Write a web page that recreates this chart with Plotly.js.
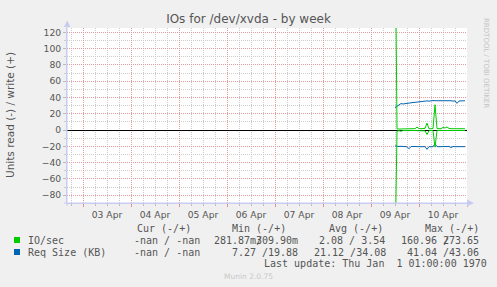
<!DOCTYPE html>
<html>
<head>
<meta charset="utf-8">
<script src="https://cdn.plot.ly/plotly-3.0.1.min.js"></script>
<style>
html,body{margin:0;padding:0;background:#f0f0f0;}
#chart{width:497px;height:287px;}
</style>
</head>
<body>
<div id="chart"></div>
<script>
// ---- data ----
const seriesStart = '2024-04-09T12:00:00';
const stepHours = 1;
const ioWrite = [273.65, 1.5, 1.2, 1.5, 1.4, 1.6, 1.5, 1.5, 1.6, 1.5, 1.7, 3.5, 1.8, 1.6, 1.7, 2.0,
  8.5, 1.5, 1.6, 1.8, 31.0, 1.6, 1.7, 1.6, 3.2, 2.5, 3.8, 2.0, 1.6, 1.7, 1.6, 1.7, 1.6, 1.6, 1.7, 1.6];
const ioRead = [-160.96, -1.2, -0.8, -1.5, -0.6, -0.9, -1.3, -0.7, -0.5, -0.6, -0.5, -0.7, -0.6, -0.5, -0.6, -1.0,
  -5.5, -0.8, -0.6, -0.7, -21.0, -0.6, -0.5, -0.6, -0.5, -0.6, -0.5, -0.6, -0.5, -0.6, -0.5, -0.6, -0.5, -0.6, -0.5, -0.6];
const reqWrite = [27.5, 29.0, 30.5, 32.5, 32.0, 32.5, 33.0, 32.8, 33.5, 33.8, 34.0, 34.4, 34.6, 35.0, 35.5, 35.2,
  35.8, 35.5, 36.0, 36.2, 36.0, 36.1, 35.8, 36.0, 36.2, 35.7, 36.0, 35.8, 36.0, 35.5, 35.9, 32.8, 35.5, 35.8, 35.9, 35.9];
const reqRead = [-19.5, -20.0, -20.2, -20.0, -20.3, -20.1, -20.5, -23.0, -20.3, -20.2, -20.4, -20.1, -20.3, -20.2, -20.5, -20.3,
  -23.7, -20.4, -20.2, -20.5, -17.0, -20.3, -20.5, -20.2, -20.4, -20.2, -20.3, -20.1, -21.5, -20.2, -20.4, -20.3, -20.2, -20.5, -20.3, -20.4];

const seriesNames = ['IO/sec', 'Req Size (KB)'];
const seriesColors = ['#00cc00', '#0066b3'];
const legendHeader = ['Cur (-/+)', 'Min (-/+)', 'Avg (-/+)', 'Max (-/+)'];
const legendCur = ['-nan / -nan', '-nan / -nan'];
const legendMinRead = ['281.87m/', '7.27 /'];
const legendMinWrite = ['309.90m', '19.88'];
const legendAvg = ['2.08 / 3.54', '21.12 /34.08'];
const legendMaxRead = ['160.96 /', '41.04 /'];
const legendMaxWrite = ['273.65', '43.06'];
const lastUpdate = 'Last update: Thu Jan  1 01:00:00 1970';
const titleText = 'IOs for /dev/xvda - by week';
const yTitle = 'Units read (-) / write (+)';
const xRange = ['2024-04-02T16:00:00', '2024-04-11T00:00:00'];
const yRange = [-89.6, 125.3];

// timestamps
const t0 = new Date(seriesStart.replace('T', ' ').replace(/-/g, '/')).getTime();
function fmt(ms) {
  const d = new Date(ms);
  const p = n => String(n).padStart(2, '0');
  return d.getFullYear() + '-' + p(d.getMonth() + 1) + '-' + p(d.getDate()) + ' ' + p(d.getHours()) + ':' + p(d.getMinutes()) + ':00';
}
const times = ioWrite.map((_, i) => fmt(t0 + i * stepHours * 3600000));

// ---- layout helpers (pixel -> paper) ----
const W = 497, H = 287, L = 67, R = 30, T = 28, B = 84;
const PW = W - L - R, PH = H - T - B;
const px = x => (x - L) / PW;
const py = y => (H - B - y) / PH;
const CW = 6.02; // monospace char width at 10px

const mono = 'DejaVu Sans Mono, monospace';
const sans = 'DejaVu Sans, sans-serif';
const txt = '#555555';

function line(y, color) {
  return {x: times, y: y, type: 'scatter', mode: 'lines', line: {color: color, width: 1}, hoverinfo: 'skip', showlegend: false};
}
const traces = [
  line(reqWrite, seriesColors[1]),
  line(reqRead, seriesColors[1]),
  line(ioWrite, seriesColors[0]),
  line(ioRead, seriesColors[0])
];

const ann = [];
function A(text, x, y, opts) {
  ann.push(Object.assign({text: text, xref: 'paper', yref: 'paper', x: px(x), y: py(y), xanchor: 'left', yanchor: 'middle',
    showarrow: false, font: {family: mono, size: 10, color: txt}}, opts || {}));
}
// y title
A(yTitle, 10, 115, {xanchor: 'center', textangle: -90, font: {family: sans, size: 10.5, color: txt}});
// legend header
const hdrX = [134.5, 229.5, 326.5, 422.5];
legendHeader.forEach((h, i) => A(h, hdrX[i], 228));
const rowY = [240, 252];
const curX = [131.5, 131.5], minX = [212, 229.5], avgX = [317, 311.5], maxX = [399, 405];
seriesNames.forEach((n, i) => {
  A(n, 26, rowY[i]);
  A(legendCur[i], curX[i], rowY[i]);
  // read part ends with '/', write part starts on the slash column (overlap as in rrdtool)
  const mr = legendMinRead[i];
  A(mr, minX[i], rowY[i]);
  A(legendMinWrite[i], minX[i] + (mr.length - (i === 0 ? 1 : 0)) * CW, rowY[i]);
  A(legendAvg[i], avgX[i], rowY[i]);
  const xr = legendMaxRead[i];
  A(xr, maxX[i], rowY[i]);
  A(legendMaxWrite[i], maxX[i] + (xr.length - (i === 0 ? 1 : 0)) * CW, rowY[i]);
});
A(lastUpdate, 261.5, 263.5);
A('Munin 2.0.75', 248, 276, {xanchor: 'center', font: {family: sans, size: 7.5, color: '#c8c8c8'}});
A('RRDTOOL / TOBI OETIKER', 486, 63, {xanchor: 'center', textangle: 90, font: {family: sans, size: 7, color: '#c4c4c4'}});

const axisCol = '#c8ccf0';
const shapes = [];
seriesColors.forEach((c, i) => {
  shapes.push({type: 'rect', xref: 'paper', yref: 'paper', x0: px(14), x1: px(20), y0: py(rowY[i] + 3), y1: py(rowY[i] - 3),
    fillcolor: c, line: {width: 0}});
});
// axis extensions and arrows
shapes.push({type: 'line', xref: 'paper', yref: 'paper', x0: px(L), x1: px(L), y0: py(206), y1: py(23), line: {color: axisCol, width: 1}, layer: 'above'});
shapes.push({type: 'line', xref: 'paper', yref: 'paper', x0: px(64), x1: px(470), y0: py(203), y1: py(203), line: {color: axisCol, width: 1}, layer: 'above'});
shapes.push({type: 'path', xref: 'paper', yref: 'paper', path: 'M' + px(64) + ',' + py(27) + ' L' + px(70.5) + ',' + py(27) + ' L' + px(67.2) + ',' + py(20.5) + ' Z',
  fillcolor: axisCol, line: {width: 0}, layer: 'above'});
shapes.push({type: 'path', xref: 'paper', yref: 'paper', path: 'M' + px(467) + ',' + py(199.5) + ' L' + px(467) + ',' + py(206.5) + ' L' + px(474) + ',' + py(203) + ' Z',
  fillcolor: axisCol, line: {width: 0}, layer: 'above'});

const redGrid = '#e29c9c', grayGrid = '#cccccc';
const layout = {
  width: W, height: H,
  margin: {l: L, r: R, t: T, b: B, pad: 0},
  paper_bgcolor: '#f0f0f0', plot_bgcolor: '#ffffff',
  showlegend: false,
  title: {text: titleText, x: 0.5, xref: 'container', xanchor: 'center', y: 1 - 19 / H, yref: 'container', yanchor: 'middle',
    font: {family: sans, size: 12, color: txt}},
  xaxis: {
    type: 'date', range: xRange, fixedrange: true,
    tick0: '2024-04-03 00:00:00', dtick: 86400000, tickformat: '%d %b', ticklabelmode: 'period',
    ticks: 'outside', ticklen: 3, tickcolor: '#e09090', tickwidth: 1,
    showgrid: true, gridcolor: redGrid, griddash: '1px,1px', gridwidth: 1,
    minor: {dtick: 6 * 3600000, tick0: '2024-04-03 00:00:00', showgrid: true, gridcolor: grayGrid, griddash: '1px,1px', ticks: 'outside', ticklen: 2, tickcolor: '#bbbbbb'},
    showline: true, linecolor: axisCol, zeroline: false,
    tickfont: {family: sans, size: 9.2, color: txt}
  },
  yaxis: {
    range: yRange, fixedrange: true, tick0: 0, dtick: 20,
    ticks: 'outside', ticklen: 3, tickcolor: '#bbbbbb', tickwidth: 1,
    showgrid: true, gridcolor: redGrid, griddash: '1px,1px', gridwidth: 1,
    minor: {dtick: 10, showgrid: true, gridcolor: grayGrid, griddash: '1px,1px', ticks: 'outside', ticklen: 2, tickcolor: '#cccccc'},
    showline: true, linecolor: axisCol,
    zeroline: true, zerolinecolor: '#000000', zerolinewidth: 1,
    tickfont: {family: sans, size: 9.2, color: txt}
  },
  annotations: ann,
  shapes: shapes
};

Plotly.newPlot('chart', traces, layout, {displayModeBar: false, staticPlot: true});
</script>
</body>
</html>
